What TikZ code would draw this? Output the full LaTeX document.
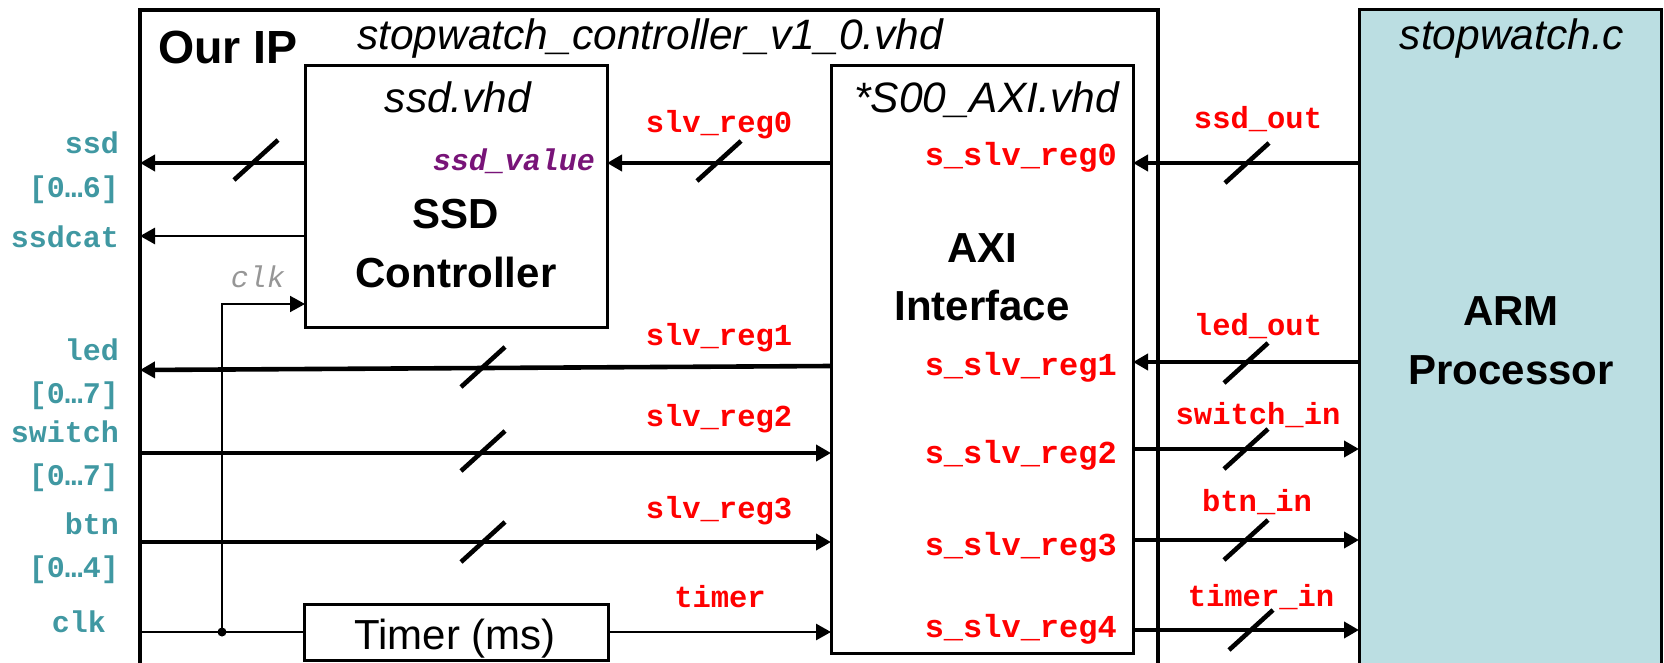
\documentclass[tikz,border=0pt]{standalone}
\usepackage{fontspec}
\setmainfont{Liberation Sans}
\newfontfamily\monof{Liberation Mono}
\usetikzlibrary{arrows.meta}
\definecolor{tealc}{RGB}{64,152,162}
\definecolor{purc}{RGB}{120,20,120}
\definecolor{grayc}{RGB}{150,150,150}
\definecolor{armc}{RGB}{187,222,226}
\definecolor{redc}{RGB}{255,0,0}
\begin{document}
\begin{tikzpicture}[x=1pt,y=-1pt,
  blk/.style={draw, line width=3pt, inner sep=0pt, outer sep=0pt, anchor=north west},
  bus/.style={line width=4.6pt},
  wire/.style={line width=2.8pt},
  thinw/.style={line width=2pt},
  arr/.style={-{Triangle[length=15pt,width=16pt]}},
  busmark/.pic={\draw[line width=4.6pt] (-22,20) -- (22,-20);},
  tl/.style={text=tealc, font=\monof\bfseries\fontsize{30}{36}\selectfont, anchor=base east, inner sep=0pt},
  rl/.style={text=redc, font=\monof\bfseries\fontsize{30.5}{36}\selectfont, anchor=base, inner sep=0pt},
  rr/.style={text=redc, font=\monof\bfseries\fontsize{32}{36}\selectfont, anchor=base east, inner sep=0pt},
  it/.style={font=\itshape\fontsize{42.5}{48}\selectfont, inner sep=0pt},
  bd/.style={font=\bfseries\fontsize{42}{48}\selectfont, inner sep=0pt, anchor=base},
]
\useasboundingbox (0,0) rectangle (1664,663);
\clip (0,0) rectangle (1664,663);

% blocks
\node[blk, line width=3.5pt, minimum width=1018pt, minimum height=720pt] (ourip) at (140,10) {};
\node[blk, fill=armc, minimum width=302pt, minimum height=720pt] (arm) at (1359,10) {};
\node[blk, minimum width=302pt, minimum height=261pt] (ssd) at (305,66) {};
\node[blk, minimum width=302pt, minimum height=587pt] (axi) at (831,66) {};
\node[blk, minimum width=304pt, minimum height=56pt] (timer) at (304,604) {};

% block titles
\node[font=\bfseries\fontsize{46.5}{50}\selectfont, anchor=base west, inner sep=0pt] (ouriplbl) at (158,64) {Our IP};
\node[it, anchor=base west] (topfile) at (357,50) {stopwatch\_controller\_v1\_0.vhd};
\node[it, anchor=base] (ssdfile) at (458,113) {ssd.vhd};
\node[it, anchor=base east] (axifile) at (1119,113) {*S00\_AXI.vhd};
\node[it, anchor=base] (cfile) at (1512,50) {stopwatch.c};
\node[bd] (ssdl1) at (456,228) {SSD};
\node[bd] (ssdl2) at (456,287) {Controller};
\node[bd] (axil1) at (982,262) {AXI};
\node[bd] (axil2) at (982,320) {Interface};
\node[bd] (arml1) at (1511,325) {ARM};
\node[bd] (arml2) at (1511,384) {Processor};
\node[font=\fontsize{42}{46}\selectfont, anchor=base, inner sep=0pt] (timerl) at (455,649) {Timer (ms)};

% rows
\coordinate (y0) at (0,163);
\coordinate (ycat) at (0,236);
\coordinate (yck) at (0,304);
\coordinate (y1a) at (0,366);
\coordinate (y1b) at (0,370);
\coordinate (y1r) at (0,362);
\coordinate (y2) at (0,453);
\coordinate (y2r) at (0,449);
\coordinate (y3) at (0,542);
\coordinate (y3r) at (0,540);
\coordinate (y4) at (0,632);
\coordinate (y4r) at (0,630);
\coordinate (ckdot) at (222,632);

% connectors
\draw[bus,arr] (ssd.west |- y0) -- (ourip.west |- y0);
\draw[wire,arr] (ssd.west |- ycat) -- (ourip.west |- ycat);
\draw[bus,arr] (axi.west |- y0) -- (ssd.east |- y0);
\draw[bus,arr] (arm.west |- y0) -- (axi.east |- y0);
\draw[bus,arr] (axi.west |- y1a) -- (ourip.west |- y1b);
\draw[bus,arr] (arm.west |- y1r) -- (axi.east |- y1r);
\draw[bus,arr] (ourip.west |- y2) -- (axi.west |- y2);
\draw[bus,arr] (axi.east |- y2r) -- (arm.west |- y2r);
\draw[bus,arr] (ourip.west |- y3) -- (axi.west |- y3);
\draw[bus,arr] (axi.east |- y3r) -- (arm.west |- y3r);
\draw[thinw] (ourip.west |- y4) -- (timer.west |- y4);
\draw[wire,arr] (timer.east |- y4) -- (axi.west |- y4);
\draw[bus,arr] (axi.east |- y4r) -- (arm.west |- y4r);
\draw[thinw,arr] (ckdot) |- (ssd.west |- yck);
\fill (ckdot) circle (4.5);

% bus slashes
\pic at (256,160) {busmark};
\pic at (719,161) {busmark};
\pic at (1247,163) {busmark};
\pic at (483,367) {busmark};
\pic at (1246,363) {busmark};
\pic at (483,451) {busmark};
\pic at (1246,449) {busmark};
\pic at (483,542) {busmark};
\pic at (1246,540) {busmark};
\pic at (1251,630) {busmark};

% external port labels
\node[tl] (pssd) at (119,154) {ssd};
\node[tl] (pssdr) at (119,197) {[0…6]};
\node[tl] (pcat) at (119,247) {ssdcat};
\node[tl] (pled) at (119,360) {led};
\node[tl] (pledr) at (119,403) {[0…7]};
\node[tl] (psw) at (119,442) {switch};
\node[tl] (pswr) at (119,485) {[0…7]};
\node[tl] (pbtn) at (119,534) {btn};
\node[tl] (pbtnr) at (119,577) {[0…4]};
\node[tl] (pclk) at (106,632) {clk};

% signal labels
\node[rl] (l0) at (719,133) {slv\_reg0};
\node[rl] (l1) at (719,345) {slv\_reg1};
\node[rl] (l2) at (719,426) {slv\_reg2};
\node[rl] (l3) at (719,518) {slv\_reg3};
\node[rl] (lt) at (720,607) {timer};
\node[rl] (o0) at (1258,129) {ssd\_out};
\node[rl] (o1) at (1258,335) {led\_out};
\node[rl] (o2) at (1258,424) {switch\_in};
\node[rl] (o3) at (1257,511) {btn\_in};
\node[rl] (o4) at (1261,606) {timer\_in};
\node[rr] (s0) at (1117,166) {s\_slv\_reg0};
\node[rr] (s1) at (1117,375) {s\_slv\_reg1};
\node[rr] (s2) at (1117,463) {s\_slv\_reg2};
\node[rr] (s3) at (1117,555) {s\_slv\_reg3};
\node[rr] (s4) at (1117,637) {s\_slv\_reg4};
\node[text=purc, font=\monof\bfseries\itshape\fontsize{30}{36}\selectfont, anchor=base east, inner sep=0pt] (sv) at (595,171) {ssd\_value};
\node[text=grayc, font=\monof\itshape\fontsize{30}{36}\selectfont, anchor=base, inner sep=0pt] (ck) at (258,287) {clk};
\end{tikzpicture}
\end{document}
